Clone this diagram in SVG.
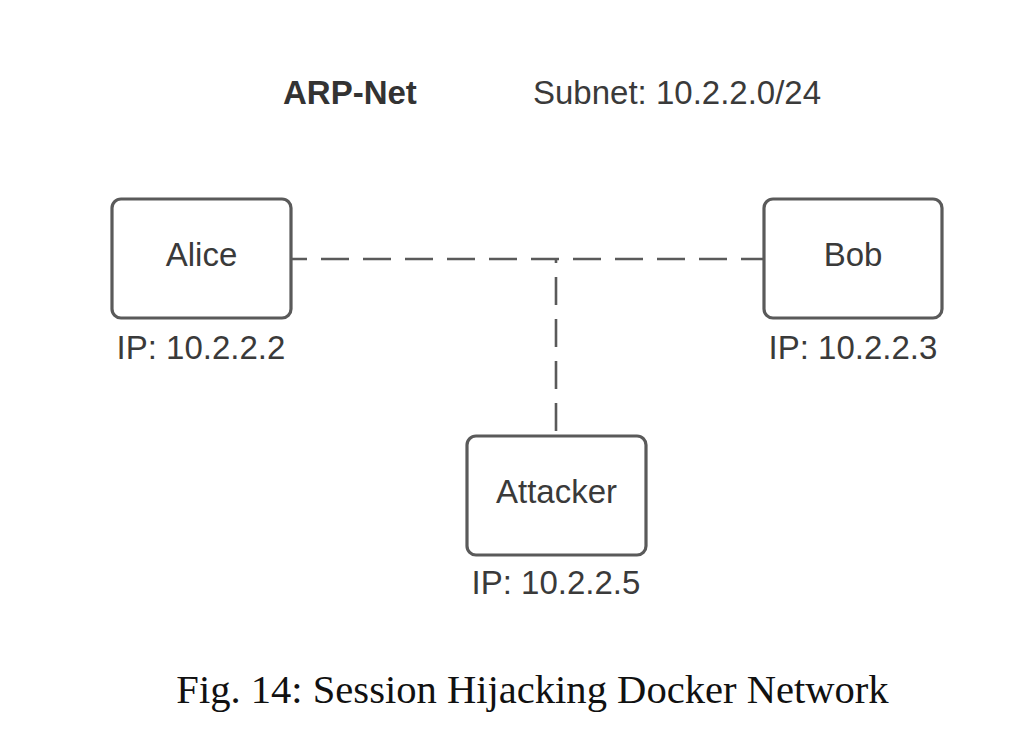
<svg xmlns="http://www.w3.org/2000/svg" width="1032" height="756" viewBox="0 0 1032 756">
<style>
.box{fill:#fff;stroke:#5a5a5a;stroke-width:3.2}
.lbl{font-family:"Liberation Sans",Arial,sans-serif;font-size:33px;fill:#3a3a3a;text-anchor:middle}
.title{font-family:"Liberation Sans",Arial,sans-serif;font-size:33px;fill:#333;font-weight:bold}
.sub{font-family:"Liberation Sans",Arial,sans-serif;font-size:33px;fill:#3a3a3a}
.cap{font-family:"Liberation Serif","Times New Roman",serif;font-size:40.6px;fill:#111;text-anchor:middle}
.dash{fill:none;stroke:#5a5a5a;stroke-width:2.6;stroke-dasharray:28 14}
</style>
<rect width="1032" height="756" fill="#fff"/>
<text class="title" x="283" y="104">ARP-Net</text>
<text class="sub" x="533" y="104">Subnet: 10.2.2.0/24</text>
<g id="connectors">
<path class="dash" d="M291 259 H764" stroke-dashoffset="12"/>
<path class="dash" d="M556 259 V436" stroke-dashoffset="24"/>
</g>
<g id="alice">
<rect class="box" x="112" y="199" width="179" height="119" rx="9"/>
<text class="lbl" x="201.5" y="266">Alice</text>
<text class="lbl" x="201" y="359">IP: 10.2.2.2</text>
</g>
<g id="bob">
<rect class="box" x="764" y="199" width="178" height="119" rx="9"/>
<text class="lbl" x="853" y="266">Bob</text>
<text class="lbl" x="853" y="359">IP: 10.2.2.3</text>
</g>
<g id="attacker">
<rect class="box" x="467" y="436" width="179" height="119" rx="9"/>
<text class="lbl" x="556.5" y="503">Attacker</text>
<text class="lbl" x="556" y="594">IP: 10.2.2.5</text>
</g>
<text class="cap" x="532.5" y="703">Fig. 14: Session Hijacking Docker Network</text>
</svg>
